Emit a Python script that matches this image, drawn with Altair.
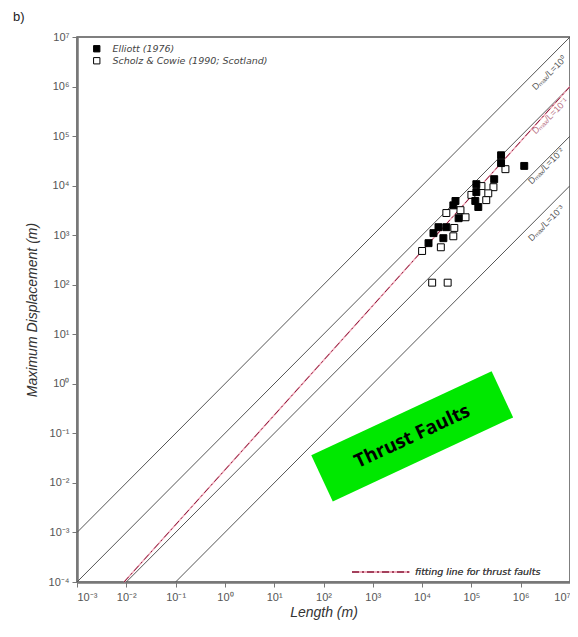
import math
import altair as alt
import pandas as pd

# ---------------- data ----------------
elliott_name = "Elliott (1976)"
scholz_name = "Scholz & Cowie (1990; Scotland)"

elliott_L = [4.0e5, 4.0e5, 1.18e6, 2.9e5, 1.26e5, 1.26e5, 1.2e5, 1.38e5, 4.75e4, 4.3e4,
             5.5e4, 2.15e4, 3.1e4, 1.7e4, 2.7e4, 1.35e4]
elliott_D = [4.1e4, 2.85e4, 2.5e4, 1.35e4, 1.07e4, 7.4e3, 4.9e3, 3.7e3, 4.9e3, 4.0e3,
             2.2e3, 1.45e3, 1.45e3, 1.1e3, 8.7e2, 6.9e2]

scholz_L = [4.9e5, 2.8e5, 1.6e5, 2.2e5, 2.0e5, 1.0e5, 7.6e4, 6.0e4, 3.1e4, 4.5e4,
            4.3e4, 2.4e4, 1.0e4, 1.6e4, 3.3e4]
scholz_D = [2.15e4, 9.3e3, 9.8e3, 7.0e3, 5.1e3, 6.5e3, 2.3e3, 3.2e3, 2.8e3, 1.4e3,
            9.5e2, 5.7e2, 4.8e2, 1.1e2, 1.1e2]

# constant Dmax/L lines (end points)
ratio_names = ["Dₘₐₓ/L=10⁰", "Dₘₐₓ/L=10⁻¹", "Dₘₐₓ/L=10⁻²", "Dₘₐₓ/L=10⁻³"]
ratio_L_start = [1e-3, 1e-3, 1e-2, 1e-1]
ratio_D_start = [1e-3, 1e-4, 1e-4, 1e-4]
ratio_L_end = [1e7, 1e7, 1e7, 1e7]
ratio_D_end = [1e7, 1e6, 1e5, 1e4]
ratio_label_L = [3.77e6, 3.94e6, 3.27e6, 3.27e6]
ratio_label_D = [1.87e6, 2.54e5, 2.48e4, 1.75e3]
ratio_label_color = ["#555555", "#b77084", "#555555", "#555555"]

# fitting line for thrust faults (end points)
fit_L = [0.009, 1e7]
fit_D = [1e-4, 1e6]

# annotation box
box_L = [6.3e3]
box_D = [0.087]
box_text = ["Thrust Faults"]

x_ticks = [1e-3, 1e-2, 1e-1, 1e0, 1e1, 1e2, 1e3, 1e4, 1e5, 1e6, 1e7]
x_tick_labels = ["10⁻³", "10⁻²", "10⁻¹", "10⁰", "10¹", "10²", "10³", "10⁴", "10⁵", "10⁶", "10⁷"]
y_ticks = [1e-4, 1e-3, 1e-2, 1e-1, 1e0, 1e1, 1e2, 1e3, 1e4, 1e5, 1e6, 1e7]
y_tick_labels = ["10⁻⁴", "10⁻³", "10⁻²", "10⁻¹", "10⁰", "10¹", "10²", "10³", "10⁴", "10⁵", "10⁶", "10⁷"]

# ---------------- build ----------------
def label_expr(ticks, labels):
    e = "round(log(datum.value)/LN10)"
    parts = [f"{e} == {round(math.log10(t))} ? '{l}' : " for t, l in zip(ticks, labels)]
    return "".join(parts) + "''"

FONT = "Liberation Sans"
LFONT = "DejaVu Sans"
xscale = alt.Scale(type="log", domain=[1e-3, 1e7], nice=False)
yscale = alt.Scale(type="log", domain=[1e-4, 1e7], nice=False)
xaxis = alt.Axis(values=x_ticks, labelExpr=label_expr(x_ticks, x_tick_labels), title="Length (m)",
                 grid=False, tickSize=5, labelPadding=4, titlePadding=3, titleFontSize=14)
yaxis = alt.Axis(values=y_ticks, labelExpr=label_expr(y_ticks, y_tick_labels),
                 title="Maximum Displacement (m)", grid=False, tickSize=5, labelPadding=3, titlePadding=9)

def X(field):
    return alt.X(f"{field}:Q", scale=xscale, axis=xaxis)

def Y(field):
    return alt.Y(f"{field}:Q", scale=yscale, axis=yaxis)

ratio_rows = []
for i, n in enumerate(ratio_names):
    ratio_rows.append({"line": n, "L": ratio_L_start[i], "D": ratio_D_start[i]})
    ratio_rows.append({"line": n, "L": ratio_L_end[i], "D": ratio_D_end[i]})
ratio_df = pd.DataFrame(ratio_rows)

ratio_lab_df = pd.DataFrame({"L": ratio_label_L, "D": ratio_label_D, "t": ratio_names, "c": ratio_label_color})
fit_df = pd.DataFrame({"L": fit_L, "D": fit_D})

pts_df = pd.DataFrame({
    "L": scholz_L + elliott_L,
    "D": scholz_D + elliott_D,
    "source": [scholz_name] * len(scholz_L) + [elliott_name] * len(elliott_L),
})
box_df = pd.DataFrame({"L": box_L, "D": box_D, "t": box_text})

ratio_lines = alt.Chart(ratio_df).mark_line(color="#555555", strokeWidth=1).encode(
    x=X("L"), y=Y("D"), detail="line:N")

ratio_labels = alt.Chart(ratio_lab_df).mark_text(angle=315, fontSize=9, font=FONT, align="center",
                                                 baseline="middle").encode(
    x=X("L"), y=Y("D"), text="t:N", color=alt.Color("c:N", scale=None))

fit_pink = alt.Chart(fit_df).mark_line(color="#f0a8b8", strokeWidth=1.4).encode(x=X("L"), y=Y("D"))
fit_dash = alt.Chart(fit_df).mark_line(color="#8a1c3c", strokeWidth=1, strokeDash=[7, 3, 2, 3]).encode(
    x=X("L"), y=Y("D"))

box_path = "M -1 -0.256 L 1 -0.256 L 1 0.256 L -1 0.256 Z"
box = alt.Chart(box_df).mark_point(shape=box_path, size=39600, filled=True, color="#00e800",
                                   opacity=1, angle=335, strokeWidth=0).encode(x=X("L"), y=Y("D"))
box_label = alt.Chart(box_df).mark_text(angle=335, font="Open Sans", fontWeight="bold", fontSize=19,
                                        color="black", align="center", baseline="middle").encode(
    x=X("L"), y=Y("D"), text="t:N")

points = alt.Chart(pts_df).mark_point(shape="square", filled=True, size=48, stroke="black",
                                      strokeWidth=1, opacity=1).encode(
    x=X("L"), y=Y("D"),
    fill=alt.Fill("source:N", sort=None,
                  scale=alt.Scale(domain=[elliott_name, scholz_name], range=["black", "white"]),
                  legend=alt.Legend(orient="none", legendX=15, legendY=7, title=None,
                                    symbolType="square", symbolSize=40, symbolStrokeColor="black",
                                    symbolStrokeWidth=1, labelFont=LFONT, labelFontStyle="italic",
                                    labelFontSize=9.5, labelColor="#444444", rowPadding=1,
                                    padding=0, labelOffset=11)),
)

leg_pink = alt.Chart(fit_df).mark_rule(color="#f0a8b8", strokeWidth=1.4).encode(
    x=alt.value(275), x2=alt.value(333), y=alt.value(535))
leg_dash = alt.Chart(fit_df).mark_rule(color="#8a1c3c", strokeWidth=1, strokeDash=[7, 3, 2, 3]).encode(
    x=alt.value(275), x2=alt.value(333), y=alt.value(535))
leg_text = alt.Chart(fit_df).mark_text(text="fitting line for thrust faults", font=LFONT, fontStyle="italic",
                                       fontSize=9.5, color="#444444", align="left", baseline="middle").encode(
    x=alt.value(338), y=alt.value(535))

chart = alt.layer(
    ratio_lines, fit_pink, fit_dash, ratio_labels, box, box_label, points, leg_pink, leg_dash, leg_text
).properties(
    width=493, height=545,
    title=alt.TitleParams("b)", anchor="start", frame="bounds", font=FONT, fontSize=13,
                          fontWeight="normal", color="#222222", offset=7, dx=-12),
    autosize=alt.AutoSizeParams(type="none"),
    padding={"left": 69, "top": 29, "right": 0, "bottom": 42},
).configure_view(
    stroke="#555555", strokeWidth=1.5
).configure_axis(
    domainColor="#777777", domainWidth=2.5, tickColor="#777777", tickWidth=1,
    labelFont=FONT, labelFontSize=11, labelColor="#555555",
    titleFont=FONT, titleFontSize=14, titleFontStyle="italic", titleFontWeight="normal", titleColor="#333333",
)

chart.save("out.html", embed_options={"renderer": "svg", "actions": False})
